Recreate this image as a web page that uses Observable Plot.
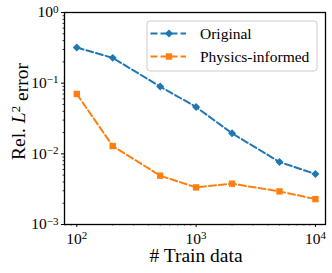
<!DOCTYPE html>
<html><head><meta charset="utf-8">
<script src="https://cdn.jsdelivr.net/npm/d3@7"></script>
<script src="https://cdn.jsdelivr.net/npm/@observablehq/plot@0.6"></script>
<style>
body{margin:0;background:#fff}
#chart svg{overflow:visible}
</style>
</head><body><div id="chart"></div>
<script>
const trainData = [100, 200, 500, 1000, 2000, 5000, 10000];
const originalErr = [0.319, 0.228, 0.0895, 0.046, 0.0195, 0.00766, 0.00518];
const physicsErr = [0.0703, 0.0129, 0.00491, 0.00335, 0.00378, 0.00294, 0.00229];
const seriesNames = ["Original", "Physics-informed"];
const seriesColors = ["#1f77b4", "#ff7f0e"];
const seriesSymbols = ["diamond2", "square"];
const xMajorTicks = [100, 1000, 10000];
const yMajorTicks = [0.001, 0.01, 0.1, 1];
const xLabel = "# Train data";
const yLabelParts = ["Rel. ", "L", "2", " error"];
const serif = "Liberation Serif, Times New Roman, serif";

const rows = [];
[originalErr, physicsErr].forEach((vals, s) => {
  vals.forEach((v, i) => rows.push({n: trainData[i], err: v, series: seriesNames[s]}));
});

function minorTicks(majors, lo, hi) {
  const out = [];
  const first = majors[0] / 10;
  for (let d = first; d <= majors[majors.length - 1]; d *= 10) {
    for (let m = 2; m <= 9; m++) {
      const v = m * d;
      if (v >= lo && v <= hi) out.push(v);
    }
  }
  return out;
}
const xDomain = [78.9, 12140];
const yDomain = [0.001, 1];
const xMinor = minorTicks(xMajorTicks, xDomain[0], xDomain[1]);
const yMinor = minorTicks(yMajorTicks, yDomain[0], yDomain[1]);

const supFmt = v => "10^" + String(Math.round(Math.log10(v))).replace("-", "\u2212");

const marks = [
  Plot.axisX(xMinor, {tickSize: 1.5, text: null, strokeWidth: 0.8, label: null}),
  Plot.axisY(yMinor, {tickSize: 1.5, text: null, strokeWidth: 0.8, label: null}),
  Plot.axisX(xMajorTicks, {tickSize: 3, tickPadding: 5, tickFormat: supFmt, fontSize: 15.5, strokeWidth: 1, label: null}),
  Plot.axisY(yMajorTicks, {tickSize: 3, tickPadding: 3, tickFormat: supFmt, fontSize: 15.5, strokeWidth: 1, label: null})
];
seriesNames.forEach((name, s) => {
  const data = rows.filter(r => r.series === name);
  marks.push(Plot.line(data, {x: "n", y: "err", stroke: seriesColors[s], strokeWidth: 2, strokeDasharray: "7,3"}));
  marks.push(Plot.dot(data, {x: "n", y: "err", fill: seriesColors[s], stroke: "none", symbol: seriesSymbols[s], r: 3.6}));
});
marks.push(Plot.frame({stroke: "black", strokeWidth: 1.3}));

const svg = Plot.plot({
  width: 332, height: 273,
  marginLeft: 64, marginRight: 7, marginTop: 12, marginBottom: 49,
  x: {type: "log", domain: xDomain, label: null},
  y: {type: "log", domain: yDomain, label: null},
  style: {background: "#fff", color: "#000"},
  marks
});
document.getElementById("chart").appendChild(svg);

const root = d3.select(svg);
root.style("font-family", serif);
root.selectAll("text").attr("font-family", serif);
root.selectAll('g[aria-label$="tick label"] text').each(function() {
  const t = this.textContent;
  const m = t.match(/^10\^(.+)$/);
  if (!m) return;
  this.textContent = "10";
  d3.select(this).append("tspan").attr("dy", "-0.45em").attr("font-size", "11px").text(m[1]);
});

// axis labels
root.append("text").attr("x", 196).attr("y", 262).attr("text-anchor", "middle")
  .attr("font-family", serif).attr("font-size", 19.5).attr("fill", "#000").text(xLabel);
const yl = root.append("text").attr("transform", "translate(25,111.5) rotate(-90)")
  .attr("text-anchor", "middle").attr("font-family", serif).attr("font-size", 19.5).attr("fill", "#000");
yl.append("tspan").text(yLabelParts[0]);
yl.append("tspan").attr("font-style", "italic").text(yLabelParts[1]);
yl.append("tspan").attr("dy", "-0.42em").attr("font-size", "13px").text(yLabelParts[2]);
yl.append("tspan").attr("dy", "0.42em").text(yLabelParts[3]);

// legend
const lg = root.append("g").attr("aria-label", "legend");
lg.append("rect").attr("x", 147).attr("y", 21).attr("width", 170).attr("height", 50).attr("rx", 3)
  .attr("fill", "#fff").attr("fill-opacity", 0.8).attr("stroke", "#cccccc").attr("stroke-width", 1);
seriesNames.forEach((name, s) => {
  const cy = 33.5 + s * 23;
  lg.append("line").attr("x1", 150.5).attr("x2", 186).attr("y1", cy).attr("y2", cy)
    .attr("stroke", seriesColors[s]).attr("stroke-width", 2).attr("stroke-dasharray", "7,3");
  const sym = s === 0 ? d3.symbol(d3.symbolDiamond2, 3.6 * 3.6 * Math.PI) : d3.symbol(d3.symbolSquare, 3.6 * 3.6 * Math.PI);
  lg.append("path").attr("d", sym()).attr("transform", `translate(169,${cy})`).attr("fill", seriesColors[s]);
  lg.append("text").attr("x", 200).attr("y", cy).attr("dy", "0.35em").attr("text-anchor", "start")
    .attr("font-family", serif).attr("font-size", 15.5).attr("fill", "#000").text(name);
});
</script>
</body></html>
